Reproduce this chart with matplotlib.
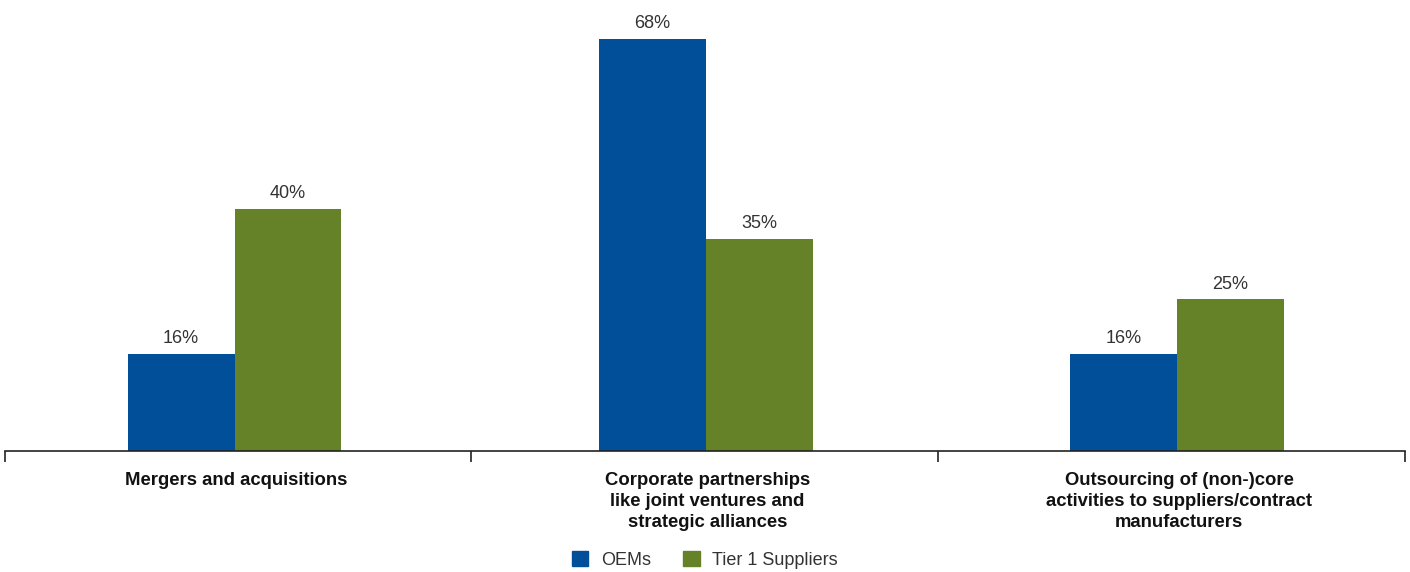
import matplotlib
matplotlib.use("Agg")
import matplotlib.pyplot as plt
import numpy as np
from matplotlib.patches import Patch

categories = ["Mergers and acquisitions",
              "Corporate partnerships\nlike joint ventures and\nstrategic alliances",
              "Outsourcing of (non-)core\nactivities to suppliers/contract\nmanufacturers"]
series_names = ["OEMs", "Tier 1 Suppliers"]
oems = [16, 68, 16]
tier1 = [40, 35, 25]

colors = ["#004F98", "#668229"]
plt.rcParams['font.family'] = ['Liberation Sans', 'DejaVu Sans']

fig = plt.figure(figsize=(14.1, 5.72), dpi=100)
ax = fig.add_axes([5/1410, 121/572, 1400/1410, 451/572])

x = np.arange(len(categories))
w = 0.227
b1 = ax.bar(x - w/2, oems, w, color=colors[0])
b2 = ax.bar(x + w/2, tier1, w, color=colors[1])
for bars, vals in [(b1, oems), (b2, tier1)]:
    for r, v in zip(bars, vals):
        ax.annotate(f"{v}%", (r.get_x() + r.get_width()/2, r.get_height()),
                    xytext=(0, 5), textcoords="offset points",
                    ha="center", va="bottom", fontsize=13, color="#333333")

# axis span: bar groups spaced slightly wider than the category cells
unit = 471.3
left = (5 - 234.5) / unit
right = (1405 - 234.5) / unit
ax.set_xlim(left, right)
ax.set_ylim(0, 74.4)
for s in ["top", "left", "right"]:
    ax.spines[s].set_visible(False)
ax.spines["bottom"].set_linewidth(1.2)
ax.spines["bottom"].set_color("#222222")
ax.set_yticks([])
bounds = [left, (471 - 234.5) / unit, (938 - 234.5) / unit, right]
ax.set_xticks(bounds)
ax.set_xticklabels([])
ax.tick_params(axis="x", which="major", direction="out", length=8, width=1.2, color="#222222")
ax.set_xticks(x + 0.004, minor=True)
ax.set_xticklabels(categories, minor=True, fontsize=13.3, fontweight="bold",
                   color="#111111", va="top", linespacing=1.3)
ax.tick_params(axis="x", which="minor", length=0, pad=15)

handles = [Patch(color=c) for c in colors]
fig.legend(handles, series_names, loc="center", bbox_to_anchor=(0.5, 0.021),
           ncol=2, frameon=False, fontsize=13, handlelength=0.9, handleheight=0.9,
           columnspacing=1.8, handletextpad=0.7, labelcolor="#333333")

fig.savefig("out.png", dpi=100)
